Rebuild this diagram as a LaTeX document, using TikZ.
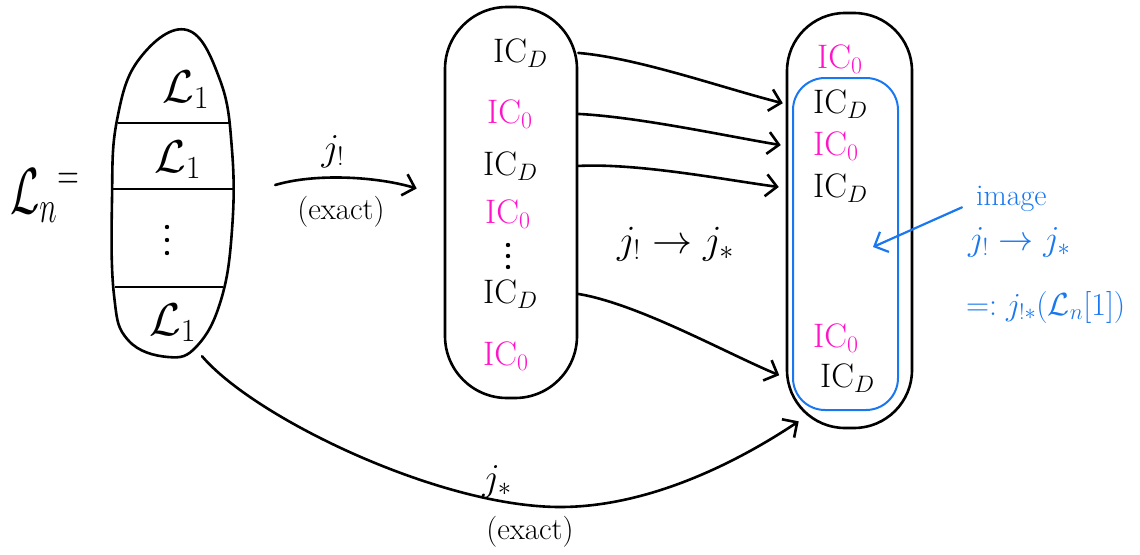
\RequirePackage{fix-cm}
\documentclass[tikz,border=0pt]{standalone}
\usetikzlibrary{arrows.meta,shapes.geometric}
\definecolor{icpink}{RGB}{255,20,200}
\definecolor{imgblue}{RGB}{25,120,240}
\begin{document}
\begin{tikzpicture}[x=1pt,y=-1pt,
  blob/.style={draw, line width=2.6pt, inner sep=0pt},
  lab/.style={inner sep=0pt, font=\fontsize{#1}{#1}\selectfont},
  ic/.style={lab=34, anchor=base west},
  icz/.style={ic, text=icpink},
  icd/.style={ic, text=black},
  dotmark/.style={circle, fill=black, inner sep=0pt, minimum size=4.4pt},
  arr/.style={line width=2.6pt, line cap=round, -{Straight Barb[length=11pt,width=22pt]}}
]
\useasboundingbox (0,0) rectangle (1140,554);

% containers
\node[ellipse, inner sep=0pt, minimum width=120pt, minimum height=328pt] (L) at (173,192) {};
\draw[line width=2.6pt] plot[smooth cycle, tension=0.7] coordinates {
  (187,30) (220,80) (232,150) (232,230) (221,300) (197,346) (168,357)
  (128,340) (114,295) (112,200) (117,120) (140,58)};
\draw[line width=2.6pt] (118,123) -- (229,123) (113,189) -- (233,189) (115,287) -- (223,287);
\node[blob, rounded corners=62pt, minimum width=132pt, minimum height=391pt] (M) at (511,202.5) {};
\node[blob, rounded corners=58pt, minimum width=125pt, minimum height=415pt] (R) at (849.5,220.5) {};
\node[draw=imgblue, line width=2pt, inner sep=0pt, rounded corners=32pt, minimum width=105pt, minimum height=332pt] (B) at (845.5,244) {};

% left
\node[lab=50, xscale=0.85, yscale=1.3, anchor=base west] (Ln) at (10,213) {$\mathcal{L}_n{}^{=}$};
\node[lab=46, anchor=base west] (l1) at (162,102) {$\mathcal{L}_1$};
\node[lab=46, anchor=base west] (l2) at (154,172) {$\mathcal{L}_1$};
\node[dotmark] (ld1) at (167,227) {};
\node[dotmark] (ld2) at (167,240) {};
\node[dotmark] (ld3) at (167,253) {};
\node[lab=46, anchor=base west] (l3) at (149,335) {$\mathcal{L}_1$};

% middle
\node[icd] (m1) at (493,62) {$\mathrm{IC}_D$};
\node[icz] (m2) at (487,123) {$\mathrm{IC}_0$};
\node[icd] (m3) at (483,175) {$\mathrm{IC}_D$};
\node[icz] (m4) at (485,223) {$\mathrm{IC}_0$};
\node[dotmark] (md1) at (508,245) {};
\node[dotmark] (md2) at (508,256) {};
\node[dotmark] (md3) at (508,267) {};
\node[icd] (m5) at (483,303) {$\mathrm{IC}_D$};
\node[icz] (m6) at (483,365) {$\mathrm{IC}_0$};

% right
\node[icz] (r1) at (817,68) {$\mathrm{IC}_0$};
\node[icd] (r2) at (813,113) {$\mathrm{IC}_D$};
\node[icz] (r3) at (813,155) {$\mathrm{IC}_0$};
\node[icd] (r4) at (813,197) {$\mathrm{IC}_D$};
\node[icz] (r5) at (813,347) {$\mathrm{IC}_0$};
\node[icd] (r6) at (820,387) {$\mathrm{IC}_D$};

% j_! arrow
\draw[arr] ([shift={(42,-7)}]L.east) .. controls +(40,-12) and +(-40,-12) .. ([shift={(-27,-14)}]M.west);
\node[lab=38, anchor=base] (jl) at (333,160) {$j_!$};
\node[lab=31] (ex1) at (341,212) {(exact)};

% middle to right arrows
\draw[arr, shorten >=3pt] (m1.east -| M.east) .. controls +(60,5) and +(-60,-15) .. (r2.west -| R.west);
\draw[arr, shorten >=5pt] (m2.east -| M.east) .. controls +(60,3) and +(-60,-10) .. (r3.west -| R.west);
\draw[arr, shorten >=7pt] (m3.east -| M.east) .. controls +(60,-3) and +(-60,-8) .. (r4.west -| R.west);
\draw[arr, shorten >=7pt] (m5.east -| M.east) .. controls +(60,10) and +(-60,-25) .. (r6.west -| R.west);
\node[lab=40, anchor=base west] (jj) at (617,253) {$j_! \to j_*$};

% bottom j_* arrow
\coordinate (jlow) at (560,507);
\draw[arr] ([xshift=29pt]L.south) .. controls +(53,62) and +(-120,0) .. (jlow) .. controls +(90,0) and +(-60,40) .. ([shift={(13,-8)}]R.south west);
\node[lab=38, anchor=base] (js) at (497,490) {$j_*$};
\node[lab=31] (ex2) at (530,532) {(exact)};

% blue annotation
\node[lab=30, text=imgblue, anchor=base west] (img) at (976,205) {image};
\node[lab=35, text=imgblue, anchor=base west] (bjj) at (968,250) {$j_! \to j_*$};
\node[lab=32, text=imgblue, anchor=base west] (bdef) at (966,315) {$=: j_{!*}(\mathcal{L}_n[1])$};
\coordinate (bt) at (873,247);
\draw[arr, draw=imgblue, line width=2.2pt] ([shift={(-14,-4)}]img.south west) -- (bt);
\end{tikzpicture}
\end{document}
